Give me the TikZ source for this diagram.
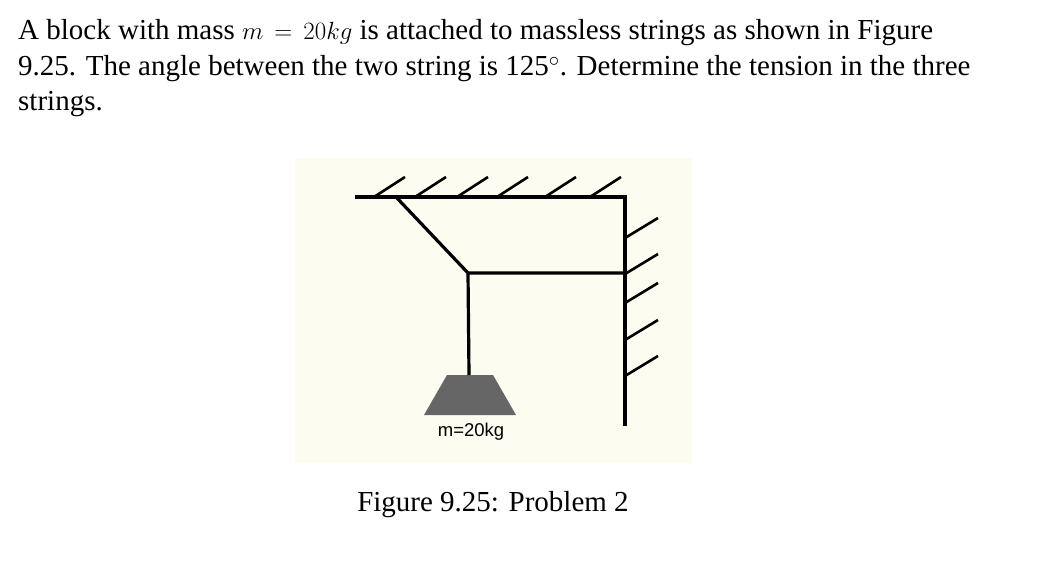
\documentclass[tikz,border=0pt]{standalone}
\usepackage{fontspec}
\setmainfont{Liberation Serif}
\setsansfont{Liberation Sans}
\usepackage{tikz}
\definecolor{paper}{HTML}{FDFCF0}
\definecolor{blockgray}{HTML}{666666}

\begin{document}
\begin{tikzpicture}[x=1pt,y=-1pt]
        \useasboundingbox (0,0) rectangle (1048,564);
        \tikzset{txt/.style={anchor=west, inner sep=0pt, font=\fontsize{29}{34}\selectfont},
                 bar/.style={line width=3.2pt},
                 hatch/.style={line width=2.6pt}}

        % Problem text
        \node[txt] (l1) at (18,33) {A block with mass $m\,=\,20kg$ is attached to massless strings as shown in Figure};
        \node[txt] (l2) at (18,69) {9.25. The angle between the two string is 125$^\circ$. Determine the tension in the three};
        \node[txt] (l3) at (18,104) {strings.};

        % Figure background
        \fill[paper] (295,158) rectangle (692,463);

        % Points
        \coordinate (CL) at (355,197);
        \coordinate (CR) at (625,197);
        \coordinate (WB) at (625,426);
        \coordinate (A) at (396,197);
        \coordinate (K) at (468,273);
        \coordinate (W) at (625,273);
        \coordinate (BT) at (469,375);

        % Block
        \fill[blockgray] (447,375) -- (493,375) -- (516,415) -- (424,415) -- cycle;

        % Ceiling and wall
        \draw[bar] (CL) -- (CR) -- (WB);
        \foreach \x in {374,415,457,497,545,590}
            \draw[hatch] (\x,197) -- ++(31,-20);
        \foreach \y in {238,274,303,340,376}
            \draw[hatch] (625,\y) -- ++(33,-20);

        % Strings
        \draw[bar] (A) -- (K) -- (W);
        \draw[bar] (K) -- (BT);

        % Labels
        \node[font=\sffamily\fontsize{18.5}{22}\selectfont] (m) at (471,432) {m=20kg};
        \node[font=\fontsize{29}{34}\selectfont] (cap) at (493,505) {Figure 9.25: Problem 2};
\end{tikzpicture}
\end{document}
